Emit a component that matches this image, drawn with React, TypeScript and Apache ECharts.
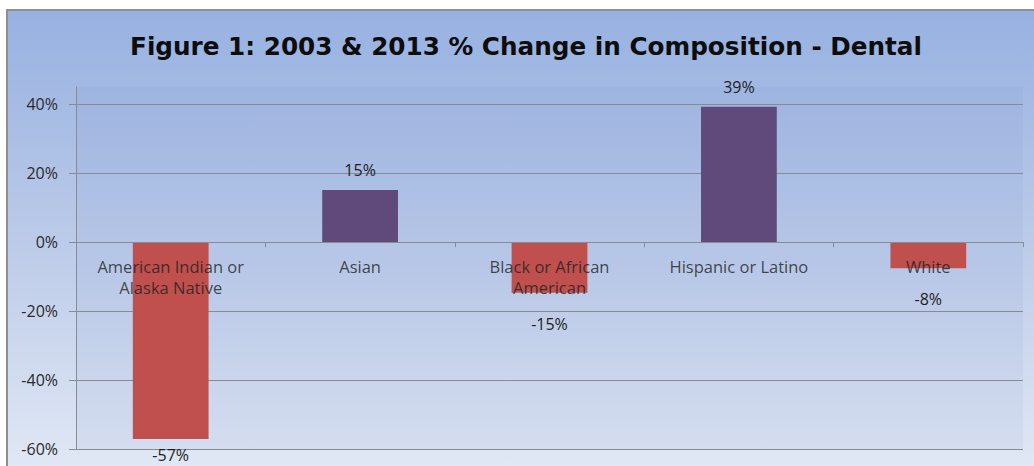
import React, { useEffect, useRef } from "react";
import * as echarts from "echarts";

const titleText = "Figure 1: 2003 & 2013 % Change in Composition - Dental";
const categories = [
  "American Indian or\nAlaska Native",
  "Asian",
  "Black or African\nAmerican",
  "Hispanic or Latino",
  "White",
];
const changePct = [-57.1, 15.1, -14.7, 39.3, -7.6];
const yTicks = [-60, -40, -20, 0, 20, 40];

const FONT = "'Open Sans', 'Noto Sans', sans-serif";
const TITLE_FONT = "'DejaVu Sans', 'Open Sans', sans-serif";

export default function App() {
  const ref = useRef<HTMLDivElement>(null);
  useEffect(() => {
    document.body.style.margin = "0";
    if (!ref.current) return;
    const chart = echarts.init(ref.current, undefined, { renderer: "svg" });
    const data = changePct.map((v) => ({
      value: v,
      itemStyle: { color: v >= 0 ? "#5f4a7b" : "#c0504d" },
      label: {
        position: v >= 0 ? "top" : "bottom",
        distance: v >= 0 ? 12 : v > -20 ? 23 : 8,
      },
    }));
    chart.setOption({
      animation: false,
      backgroundColor: "transparent",
      graphic: [
        {
          type: "text",
          x: 526,
          y: 46,
          style: {
            text: titleText,
            font: `bold 24.7px ${TITLE_FONT}`,
            fill: "#0d0d0d",
            textAlign: "center",
            textVerticalAlign: "middle",
          },
        },
      ],
      grid: {
        left: 76,
        right: 11,
        top: 87,
        bottom: 17,
        show: true,
        borderWidth: 0,
        backgroundColor: "rgba(70,100,180,0.06)",
        containLabel: false,
        outerBoundsMode: "none",
      },
      xAxis: {
        type: "category",
        data: categories,
        z: 10,
        axisLine: { show: true, onZero: true, lineStyle: { color: "#878b94", width: 1 } },
        axisTick: { show: true, length: 5, lineStyle: { color: "#878b94" } },
        axisLabel: { show: false },
      },
      yAxis: {
        type: "value",
        min: -60,
        max: 45,
        interval: 20,
        axisLine: { show: true, lineStyle: { color: "#878b94", width: 1 } },
        axisTick: { show: true, length: 7, customValues: yTicks, lineStyle: { color: "#878b94" } },
        axisLabel: {
          customValues: yTicks,
          formatter: "{value}%",
          fontFamily: FONT,
          fontSize: 16,
          color: "#2a2a2a",
          margin: 18,
        },
        splitLine: { show: true, lineStyle: { color: "#878b94", width: 1 } },
      },
      series: [
        {
          type: "bar",
          data,
          barWidth: "40%",
          z: 2,
          label: {
            show: true,
            formatter: (p: any) => `${Math.round(p.value)}%`,
            fontFamily: FONT,
            fontSize: 16,
            color: "#1e1e1e",
          },
        },
        {
          type: "scatter",
          data: categories.map(() => 0),
          symbolSize: 0,
          silent: true,
          z: 5,
          label: {
            show: true,
            position: "bottom",
            distance: 14,
            formatter: (p: any) => categories[p.dataIndex],
            fontFamily: FONT,
            fontSize: 16.5,
            lineHeight: 21,
            align: "center",
            color: "#1e1e1e",
          },
        },
      ],
    });
    return () => chart.dispose();
  }, []);

  return (
    <div style={{ position: "relative", width: 1034, height: 466, overflow: "hidden", background: "#ffffff" }}>
      <div
        style={{
          position: "absolute",
          left: 6,
          top: 9,
          width: 1040,
          height: 470,
          boxSizing: "border-box",
          border: "2px solid #8f8f8f",
          background: "linear-gradient(to bottom, #97b1e1 0%, #bccbe9 50%, #e2e9f5 100%)",
        }}
      />
      <div ref={ref} style={{ position: "absolute", left: 0, top: 0, width: 1034, height: 466 }} />
    </div>
  );
}
